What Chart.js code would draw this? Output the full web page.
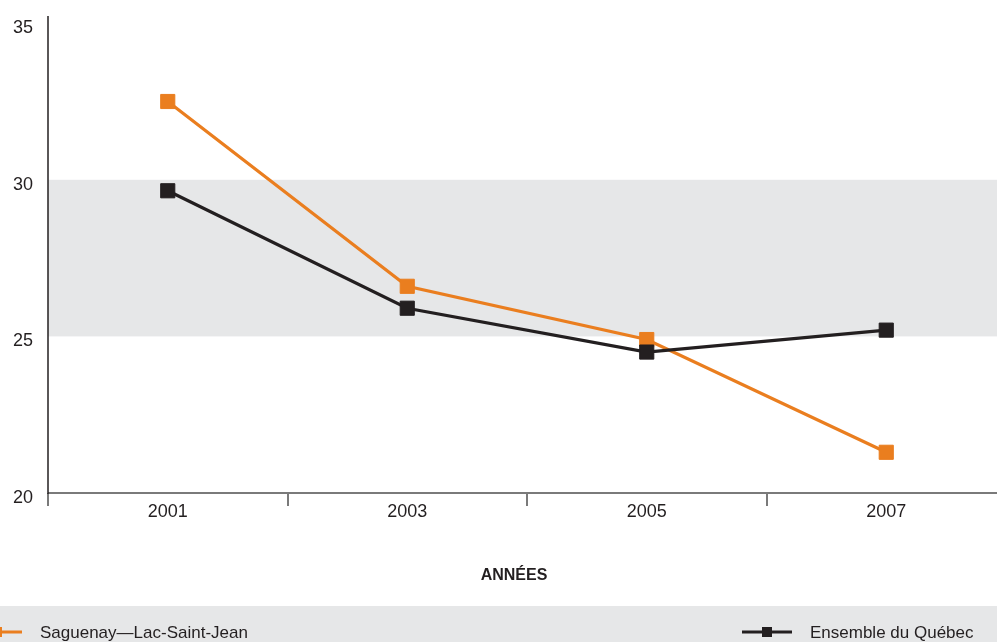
<!DOCTYPE html>
<html>
<head>
<meta charset="utf-8">
<script src="https://cdn.jsdelivr.net/npm/chart.js@4/dist/chart.umd.min.js"></script>
<style>
html,body{margin:0;padding:0;background:#fff;overflow:hidden;width:997px;height:642px;}
#wrap{width:1017px;height:642px;position:relative;}
</style>
</head>
<body>
<div id="wrap"><canvas id="c" width="1017" height="642" style="width:1017px;height:642px"></canvas></div>
<script>
const categories = ['2001', '2003', '2005', '2007'];
const saguenayValues = [32.5, 26.6, 24.9, 21.3];
const quebecValues = [29.65, 25.9, 24.5, 25.2];
const yTicks = [20, 25, 30, 35];
const bandRange = [25, 30];
const seriesNames = ['Saguenay—Lac-Saint-Jean', 'Ensemble du Québec'];
const axisTitle = 'ANNÉES';

const ORANGE = '#EA7E1F';
const BLACK = '#231F20';
const GREY_BAND = '#E6E7E8';
const FONT = '"Liberation Sans", Arial, Helvetica, sans-serif';

const bgPlugin = {
  id: 'bg',
  beforeDatasetsDraw(chart) {
    const {ctx, chartArea, scales} = chart;
    const y = scales.y;
    const top = y.getPixelForValue(bandRange[1]);
    const bot = y.getPixelForValue(bandRange[0]);
    ctx.save();
    ctx.fillStyle = GREY_BAND;
    ctx.fillRect(chartArea.left, top, chartArea.right - chartArea.left, bot - top);
    ctx.restore();
  },
  afterDraw(chart) {
    const {ctx, chartArea} = chart;
    const H = chart.height;
    ctx.save();
    // axis title
    ctx.font = 'bold 16px ' + FONT;
    ctx.fillStyle = BLACK;
    ctx.textAlign = 'center';
    ctx.textBaseline = 'middle';
    ctx.fillText(axisTitle, (chartArea.left + chartArea.right) / 2 - 13, 576);
    // legend band
    const bandTop = 606;
    ctx.fillStyle = GREY_BAND;
    ctx.fillRect(0, bandTop, chart.width, H - bandTop);
    const ly = 632;
    const items = [
      {x: -28, color: ORANGE, label: seriesNames[0]},
      {x: 742, color: BLACK, label: seriesNames[1]}
    ];
    items.forEach(it => {
      ctx.strokeStyle = it.color;
      ctx.lineWidth = 3;
      ctx.beginPath();
      ctx.moveTo(it.x, ly);
      ctx.lineTo(it.x + 50, ly);
      ctx.stroke();
      ctx.fillStyle = it.color;
      ctx.fillRect(it.x + 20, ly - 5, 10, 10);
      ctx.fillStyle = BLACK;
      ctx.font = '17px ' + FONT;
      ctx.textAlign = 'left';
      ctx.textBaseline = 'middle';
      ctx.fillText(it.label, it.x + 68, ly + 1);
    });
    // axis lines
    ctx.strokeStyle = '#7a7a7a';
    ctx.lineWidth = 2;
    ctx.beginPath();
    ctx.moveTo(chartArea.left, chartArea.bottom);
    ctx.lineTo(chart.width, chartArea.bottom);
    ctx.stroke();
    ctx.strokeStyle = BLACK;
    ctx.lineWidth = 1.5;
    ctx.beginPath();
    ctx.moveTo(chartArea.left, chartArea.top);
    ctx.lineTo(chartArea.left, chartArea.bottom + 1);
    ctx.stroke();
    ctx.restore();
  }
};

new Chart(document.getElementById('c'), {
  type: 'line',
  data: {
    labels: categories,
    datasets: [
      {
        label: seriesNames[0],
        data: saguenayValues,
        borderColor: ORANGE,
        backgroundColor: ORANGE,
        borderWidth: 3.2,
        pointStyle: 'rect',
        pointRadius: 10,
        pointBorderWidth: 1,
        pointBorderColor: ORANGE,
        pointBackgroundColor: ORANGE,
        tension: 0,
        order: 2
      },
      {
        label: seriesNames[1],
        data: quebecValues,
        borderColor: BLACK,
        backgroundColor: BLACK,
        borderWidth: 3.2,
        pointStyle: 'rect',
        pointRadius: 10,
        pointBorderWidth: 1,
        pointBorderColor: BLACK,
        pointBackgroundColor: BLACK,
        tension: 0,
        order: 1
      }
    ]
  },
  options: {
    responsive: false,
    animation: false,
    events: [],
    layout: {padding: {top: 16, right: 4, bottom: 0, left: 0}},
    plugins: {legend: {display: false}, tooltip: {enabled: false}},
    scales: {
      x: {
        offset: true,
        border: {display: false},
        grid: {
          offset: true,
          drawOnChartArea: false,
          drawTicks: true,
          tickLength: 13,
          color: '#7a7a7a',
          lineWidth: 2
        },
        ticks: {
          color: BLACK,
          font: {family: FONT, size: 18},
          padding: -5,
          maxRotation: 0
        },
        afterFit(scale) { scale.height = 149; scale.paddingLeft = 0; scale.paddingRight = 0; }
      },
      y: {
        min: 20,
        max: 35.23,
        border: {display: false},
        grid: {display: false, drawTicks: false},
        afterBuildTicks(scale) { scale.ticks = yTicks.map(v => ({value: v})); },
        ticks: {
          color: BLACK,
          font: {family: FONT, size: 18},
          padding: 15,
          labelOffset: 5
        },
        afterFit(scale) { scale.width = 48; scale.paddingTop = 0; scale.paddingBottom = 0; }
      }
    }
  },
  plugins: [bgPlugin]
});
</script>
</body>
</html>
